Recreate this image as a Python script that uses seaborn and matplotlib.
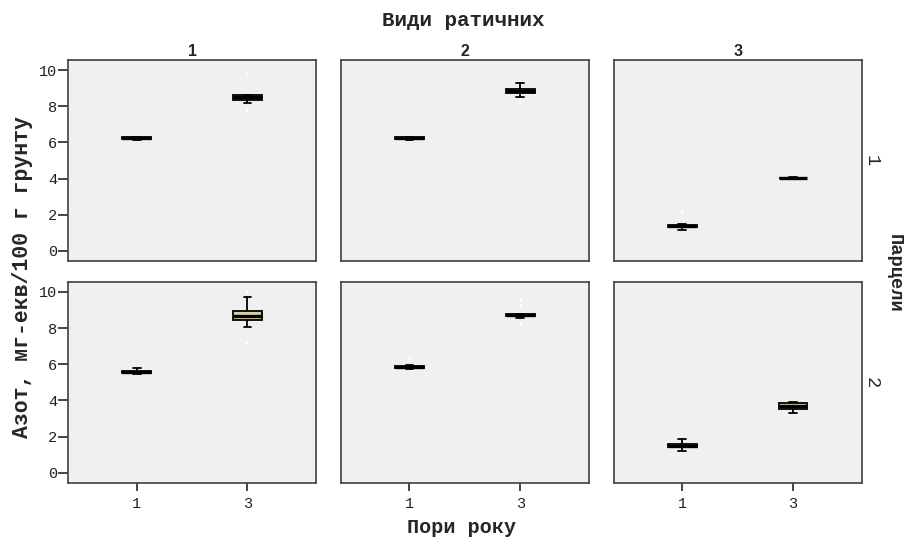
import numpy as np
import pandas as pd
import seaborn as sns
import matplotlib.pyplot as plt

# groups: plot (row), species (column), season (x)
plot_id = [1, 1, 1, 1, 1, 1, 2, 2, 2, 2, 2, 2]
species_id = [1, 1, 2, 2, 3, 3, 1, 1, 2, 2, 3, 3]
season_id = ['1', '3', '1', '3', '1', '3', '1', '3', '1', '3', '1', '3']

# five-number summary per group
lo = [6.15, 8.18, 6.15, 8.50, 1.16, 3.98, 5.45, 8.07, 5.75, 8.56, 1.22, 3.31]
q1 = [6.20, 8.36, 6.20, 8.72, 1.30, 4.01, 5.52, 8.45, 5.80, 8.68, 1.40, 3.52]
med = [6.24, 8.50, 6.24, 8.84, 1.38, 4.03, 5.58, 8.67, 5.86, 8.73, 1.49, 3.70]
q3 = [6.28, 8.62, 6.28, 8.94, 1.45, 4.05, 5.64, 8.95, 5.92, 8.78, 1.58, 3.85]
hi = [6.32, 8.62, 6.30, 9.30, 1.48, 4.08, 5.80, 9.72, 5.98, 8.80, 1.88, 3.92]

# faint outliers
out_plot = [1, 1, 1, 1, 2, 2, 2, 2, 2, 2]
out_species = [1, 1, 2, 3, 1, 1, 2, 2, 2, 2]
out_season = ['3', '3', '3', '1', '3', '3', '1', '3', '3', '3']
out_value = [9.8, 7.8, 8.2, 2.15, 10.0, 7.2, 6.35, 9.6, 9.3, 8.2]

rows = []
for i in range(len(plot_id)):
    for v in (lo[i], q1[i], med[i], q3[i], hi[i]):
        rows.append((plot_id[i], species_id[i], season_id[i], v))
df = pd.DataFrame(rows, columns=['plot', 'species', 'season', 'value'])
outs = pd.DataFrame({'plot': out_plot, 'species': out_species,
                     'season': out_season, 'value': out_value})

sns.set_style('ticks', {'axes.facecolor': '#f0f0f0', 'axes.edgecolor': '#404040'})
plt.rcParams['font.family'] = ['Liberation Mono', 'DejaVu Sans']

g = sns.catplot(data=df, x='season', y='value', row='plot', col='species',
                kind='box', order=['1', '3'], whis=(0, 100), width=0.26,
                color='#d8d0a0', saturation=1, linecolor='black', linewidth=1.3,
                fliersize=0, capwidths=0.07,
                medianprops=dict(color='black', linewidth=2.4),
                height=2.5, aspect=1.2, facet_kws=dict(despine=False))

for (p, s), ax in g.axes_dict.items():
    sub = outs[(outs['plot'] == p) & (outs['species'] == s)]
    if len(sub):
        sns.stripplot(data=sub, x='season', y='value', order=['1', '3'],
                      jitter=False, color='white', size=2.2, ax=ax)

fig = g.figure
fig.set_size_inches(9.07, 5.37)
fig.subplots_adjust(left=0.075, right=0.950, top=0.888, bottom=0.101,
                    wspace=0.10, hspace=0.105)

g.set(ylim=(-0.55, 10.55), xlim=(-0.62, 1.62), yticks=[0, 2, 4, 6, 8, 10])
g.set_titles('')
for (p, s), ax in g.axes_dict.items():
    ax.set_xlabel('')
    ax.set_ylabel('')
    for sp in ax.spines.values():
        sp.set_visible(True)
        sp.set_linewidth(1.2)
        sp.set_color('#404040')
    ax.tick_params(axis='y', length=7 if s == 1 else 0, width=1.2,
                   labelsize=11, pad=1, labelcolor='#222222')
    ax.tick_params(axis='x', length=6 if p == 2 else 0, width=1.2,
                   labelsize=11, pad=4, labelcolor='#222222')
    if p == 1:
        ax.set_title(str(s), fontsize=11.5, fontweight='bold',
                     family='Liberation Sans', pad=3)
    if s == 3:
        ax.text(1.04, 0.5, str(p), transform=ax.transAxes, rotation=-90,
                ha='center', va='center', fontsize=13.5)

fig.text(0.511, 0.961, 'Види ратичних', ha='center', va='center',
         fontsize=15, fontweight='bold')
fig.text(0.509, 0.008, 'Пори року', ha='center', va='baseline',
         fontsize=14.5, fontweight='bold')
fig.text(0.025, 0.484, 'Азот, мг-екв/100 г грунту', ha='center', va='center',
         rotation=90, fontsize=15.5, fontweight='bold')
fig.text(0.986, 0.49, 'Парцели', ha='center', va='center',
         rotation=-90, fontsize=13.5, fontweight='bold')

fig.savefig('out.png', dpi=100)
